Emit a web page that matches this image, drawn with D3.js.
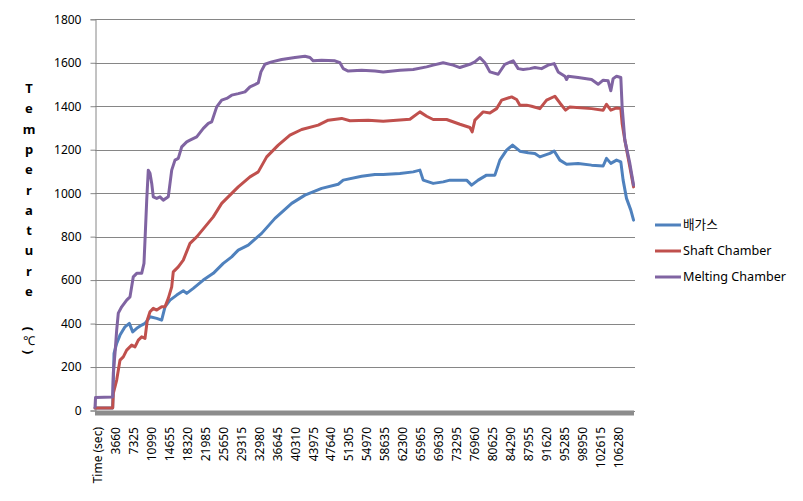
<!DOCTYPE html>
<html><head><meta charset="utf-8">
<script src="https://cdn.jsdelivr.net/npm/d3@7"></script>
<style>
html,body{margin:0;padding:0;background:#fff;}
text{font-family:"Noto Sans","Noto Sans CJK KR",sans-serif;fill:#000;}
</style></head>
<body><div id="chart"></div>
<script>
// ---- data ----
const seriesNames = ["배가스", "Shaft Chamber", "Melting Chamber"];
const seriesColors = ["#4F81BD", "#C0504D", "#8064A2"];
const yTicks = [0, 200, 400, 600, 800, 1000, 1200, 1400, 1600, 1800];
const xLabels = ["Time (sec)","3660","7325","10990","14655","18320","21985","25650","29315","32980","36645","40310","43975","47640","51305","54970","58635","62300","65965","69630","73295","76960","80625","84290","87955","91620","95285","98950","102615","106280"];
const xLabelTimes = [-5,3660,7325,10990,14655,18320,21985,25650,29315,32980,36645,40310,43975,47640,51305,54970,58635,62300,65965,69630,73295,76960,80625,84290,87955,91620,95285,98950,102615,106280];

const gasTime = [0,3600,3880,4420,5100,6120,7000,7690,8510,9530,10200,11220,12590,13600,14280,15300,16670,18010,18710,20050,22090,24130,26170,27890,29230,31270,34000,36720,40130,42840,46250,49630,50650,54410,57120,58810,62220,64930,66300,66970,69010,71050,72420,75830,76850,78190,79900,81600,82620,83990,85210,86700,88390,89760,90780,92820,93700,94860,96230,98590,101330,103690,104380,105260,106430,107300,107770,108460,109340,109900];
const gasTemp = [12,12,263,309,347,385,401,362,378,393,401,431,424,416,477,508,531,551,539,562,600,631,677,707,738,761,815,884,953,991,1022,1041,1060,1078,1086,1086,1091,1098,1106,1060,1045,1052,1060,1060,1037,1060,1083,1083,1152,1198,1221,1193,1186,1183,1167,1183,1194,1152,1133,1137,1129,1125,1160,1137,1152,1144,1060,976,922,876];

const shaftTime = [0,3600,3730,4420,5100,5770,6460,7480,8160,8830,9520,10200,10670,11220,11890,12590,13600,14280,14950,15650,15970,16990,18010,19380,20750,22440,24130,25850,27540,29230,31620,33310,35030,37390,39780,42170,45550,47590,50330,52020,55750,58810,64260,66300,67670,69010,71750,74460,76500,76970,77520,79210,80580,81950,82970,85010,86030,86700,88070,89090,90780,92150,93840,94860,96020,96900,101330,103690,104380,105260,106430,107300,107570,108120,109140,109900];
const shaftTemp = [12,12,79,140,232,247,278,301,293,324,339,332,416,454,470,462,477,477,516,569,638,661,692,769,799,845,891,953,991,1029,1075,1098,1167,1221,1267,1293,1313,1336,1344,1333,1336,1331,1340,1374,1354,1339,1339,1317,1302,1282,1336,1374,1369,1389,1428,1443,1431,1405,1405,1400,1389,1428,1446,1415,1382,1397,1389,1382,1409,1382,1392,1389,1321,1244,1121,1029];

const meltTime = [0,100,3600,3730,4080,4420,4750,5440,6460,7140,7810,8510,9520,9990,10200,10550,10870,11220,11570,11890,12590,13260,13930,14950,15650,16320,16990,17690,18710,19380,20750,22100,23120,23810,24830,25850,26870,27890,29240,30600,31620,33310,33860,34680,36050,38090,40800,42840,43860,44530,46250,48960,49980,50650,51670,54410,57120,58810,62220,64930,67670,69010,71050,73090,74460,76500,77520,78540,79560,80580,82270,83640,85330,86350,87370,88740,89760,91130,92470,93700,94510,95880,96230,96550,98590,101330,102670,103690,104710,105260,105730,106430,107300,107570,108120,109140,109900];
const meltTemp = [15,60,62,172,264,370,448,477,508,523,615,631,631,677,784,968,1106,1092,1045,983,976,983,968,983,1106,1152,1160,1213,1236,1244,1259,1298,1321,1328,1397,1428,1436,1451,1458,1466,1489,1507,1558,1593,1604,1615,1624,1630,1624,1609,1612,1609,1600,1573,1562,1566,1562,1558,1566,1569,1581,1589,1600,1589,1578,1593,1604,1624,1600,1558,1547,1593,1609,1573,1569,1573,1578,1573,1589,1596,1558,1538,1523,1538,1532,1523,1501,1520,1517,1471,1527,1538,1532,1397,1244,1137,1037];

const seriesTimes = [gasTime, shaftTime, meltTime];
const seriesTemps = [gasTemp, shaftTemp, meltTemp];
const yTitleChars = ["T","e","m","p","e","r","a","t","u","r","e"];

// ---- chart ----
const W = 803, H = 501;
const svg = d3.select("#chart").append("svg").attr("width", W).attr("height", H);

const x = d3.scaleLinear().domain([-5, 109990]).range([95, 634]);
const y = d3.scaleLinear().domain([0, 1800]).range([410.5, 19.3]);

// gridlines
svg.append("g").selectAll("line").data(yTicks).join("line")
  .attr("x1", 95).attr("x2", 635)
  .attr("y1", d => Math.round(y(d)) + 0.5).attr("y2", d => Math.round(y(d)) + 0.5)
  .attr("stroke", "#868686").attr("stroke-width", 1);

// y axis
const yAxis = d3.axisLeft(y).tickValues(yTicks).tickSize(5).tickPadding(9).tickFormat(d3.format("d"));
const gy = svg.append("g").attr("transform", "translate(95.5,0)").call(yAxis);
gy.select(".domain").attr("stroke", "#868686");
gy.selectAll(".tick line").attr("stroke", "#868686");
gy.selectAll(".tick text").attr("font-size", 12).attr("fill", "#000")
  .attr("font-family", "'Noto Sans',sans-serif");

// baseline band (zero series)
svg.append("rect").attr("x", x(-5)).attr("y", y(0)).attr("width", x(109990) - x(-5)).attr("height", 5)
  .attr("fill", "#8c8c8c");

// x labels
const gx = svg.append("g");
gx.selectAll("text").data(xLabels).join("text")
  .attr("transform", (d, i) => `translate(${x(xLabelTimes[i]) + 7},427) rotate(-90)`)
  .attr("text-anchor", "end")
  .attr("font-size", 12)
  .text(d => d);

// lines
const line = d3.line().x(d => x(d[0])).y(d => y(d[1]));
seriesTimes.forEach((ts, i) => {
  const pts = ts.map((t, j) => [t, seriesTemps[i][j]]);
  svg.append("path").datum(pts)
    .attr("d", line)
    .attr("fill", "none")
    .attr("stroke", seriesColors[i])
    .attr("stroke-width", 3)
    .attr("stroke-linejoin", "round")
    .attr("stroke-linecap", "round");
});

// y title (stacked)
const yt = svg.append("g");
yTitleChars.forEach((c, i) => {
  yt.append("text").attr("x", 29).attr("y", 93 + i * 20.3)
    .attr("text-anchor", "middle").attr("font-size", 13).attr("font-weight", "bold").text(c);
});
yt.append("text").attr("transform", "translate(29,329) rotate(90)").attr("text-anchor", "middle")
  .attr("dy", "0.35em").attr("font-size", 13).attr("font-weight", "bold").text("(");
yt.append("text").attr("x", 29).attr("y", 345).attr("text-anchor", "middle")
  .attr("font-size", 12).text("℃");
yt.append("text").attr("transform", "translate(29,352) rotate(90)").attr("text-anchor", "middle")
  .attr("dy", "0.35em").attr("font-size", 13).attr("font-weight", "bold").text(")");

// legend
const lg = svg.append("g");
seriesNames.forEach((n, i) => {
  const ly = 225 + i * 26;
  lg.append("line").attr("x1", 655).attr("x2", 681).attr("y1", ly).attr("y2", ly)
    .attr("stroke", seriesColors[i]).attr("stroke-width", 3);
  lg.append("text").attr("x", 683).attr("y", ly).attr("dy", "0.35em").attr("font-size", 12.6).text(n);
});
</script></body></html>
